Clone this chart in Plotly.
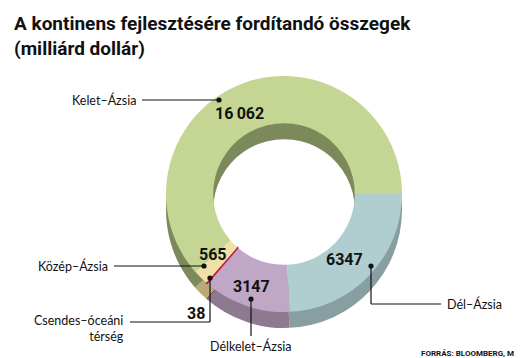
import plotly.graph_objects as go

W, H = 522, 358

regions = ["Dél–Ázsia", "Délkelet–Ázsia", "Csendes–óceáni térség", "Közép–Ázsia", "Kelet–Ázsia"]
values = [6347, 3147, 38, 565, 16062]
value_labels = ["6347", "3147", "38", "565", "16\u2009062"]
top_colors = ["#b0cdd0", "#c0a7c5", "#c8163c", "#f0e0a6", "#c5d694"]
side_colors = ["#879fa1", "#8d7a91", "#901030", "#b9aa7a", "#7c8a5b"]


def px(x):
    return x / W


def py(y):
    return 1 - y / H


cx, cy, r, depth = 276, 186, 118, 16


def dom(ox=0, oy=0):
    return dict(x=[px(cx - r + ox), px(cx + r + ox)],
                y=[py(cy + r + oy), py(cy - r + oy)])


fig = go.Figure()
# side / depth layer
fig.add_trace(go.Pie(
    labels=regions, values=values, hole=0.6, sort=False, direction="clockwise",
    rotation=90, textinfo="none", hoverinfo="skip", showlegend=False,
    marker=dict(colors=side_colors, line=dict(width=0)),
    domain=dom(0, depth),
))
# top surface
fig.add_trace(go.Pie(
    labels=regions, values=values, hole=0.6, sort=False, direction="clockwise",
    rotation=90, textinfo="none", hoverinfo="skip", showlegend=False,
    marker=dict(colors=top_colors,
                line=dict(color=["rgba(0,0,0,0)", "rgba(0,0,0,0)", "#c8163c", "rgba(0,0,0,0)", "rgba(0,0,0,0)"],
                          width=[0, 0, 1.5, 0, 0])),
    domain=dom(0, 0),
))

cond = "Roboto, Liberation Sans, sans-serif"
title_font = dict(family=cond, size=19, color="#111")
num_font = dict(family=cond, size=16, color="#111")
lab_font = dict(family="Lato, Open Sans, sans-serif", size=12.5, color="#111")

ann = []
ann.append(dict(x=px(4), y=py(2), xref="paper", yref="paper", xanchor="left", yanchor="top",
                text="<b>A kontinens fejlesztésére fordítandó összegek<br>(milliárd dollár)</b>",
                showarrow=False, align="left", font=title_font))
ann.append(dict(x=px(514), y=py(345), xref="paper", yref="paper", xanchor="right", yanchor="middle",
                text="<b>FORRÁS: BLOOMBERG, MH</b>", showarrow=False,
                font=dict(family=cond, size=8, color="#111")))

# value labels (pixel positions of centers)
num_pos = {0: (336, 251), 1: (243, 278), 2: (188, 305), 3: (205, 246), 4: (231, 106)}
for i, (x, y) in num_pos.items():
    ann.append(dict(x=px(x), y=py(y), xref="paper", yref="paper", xanchor="center", yanchor="middle",
                    text="<b>" + value_labels[i] + "</b>", showarrow=False, font=num_font))

# region labels
ann.append(dict(x=px(130), y=py(92), xref="paper", yref="paper", xanchor="right", yanchor="middle",
                text="Kelet–Ázsia", showarrow=False, font=lab_font))
ann.append(dict(x=px(437), y=py(296), xref="paper", yref="paper", xanchor="left", yanchor="middle",
                text="Dél–Ázsia", showarrow=False, font=lab_font))
ann.append(dict(x=px(243), y=py(338), xref="paper", yref="paper", xanchor="center", yanchor="middle",
                text="Délkelet–Ázsia", showarrow=False, font=lab_font))
ann.append(dict(x=px(102), y=py(258), xref="paper", yref="paper", xanchor="right", yanchor="middle",
                text="Közép–Ázsia", showarrow=False, font=lab_font))
ann.append(dict(x=px(118), y=py(320), xref="paper", yref="paper", xanchor="right", yanchor="middle",
                text="Csendes–óceáni<br>térség", showarrow=False, align="right", font=lab_font))

shapes = []


def line(x0, y0, x1, y1):
    shapes.append(dict(type="line", xref="paper", yref="paper", x0=px(x0), y0=py(y0), x1=px(x1), y1=py(y1),
                       line=dict(color="#111", width=1.2)))


def dot(x, y, rr=2.6):
    shapes.append(dict(type="circle", xref="paper", yref="paper", x0=px(x - rr), y0=py(y + rr),
                       x1=px(x + rr), y1=py(y - rr), fillcolor="#111", line=dict(width=0)))


line(134, 92, 211, 92); dot(211, 92)
line(363, 258, 363, 296); line(363, 296, 433, 296); dot(363, 258)
line(243, 291, 243, 328); dot(243, 291)
line(106, 258, 196, 258); dot(196, 258)
line(122, 314, 202, 314); line(202, 314, 202, 270); dot(202, 270)

fig.update_layout(width=W, height=H, margin=dict(l=0, r=0, t=0, b=0),
                  paper_bgcolor="white", plot_bgcolor="white",
                  annotations=ann, shapes=shapes)

fig.write_html("out.html")
